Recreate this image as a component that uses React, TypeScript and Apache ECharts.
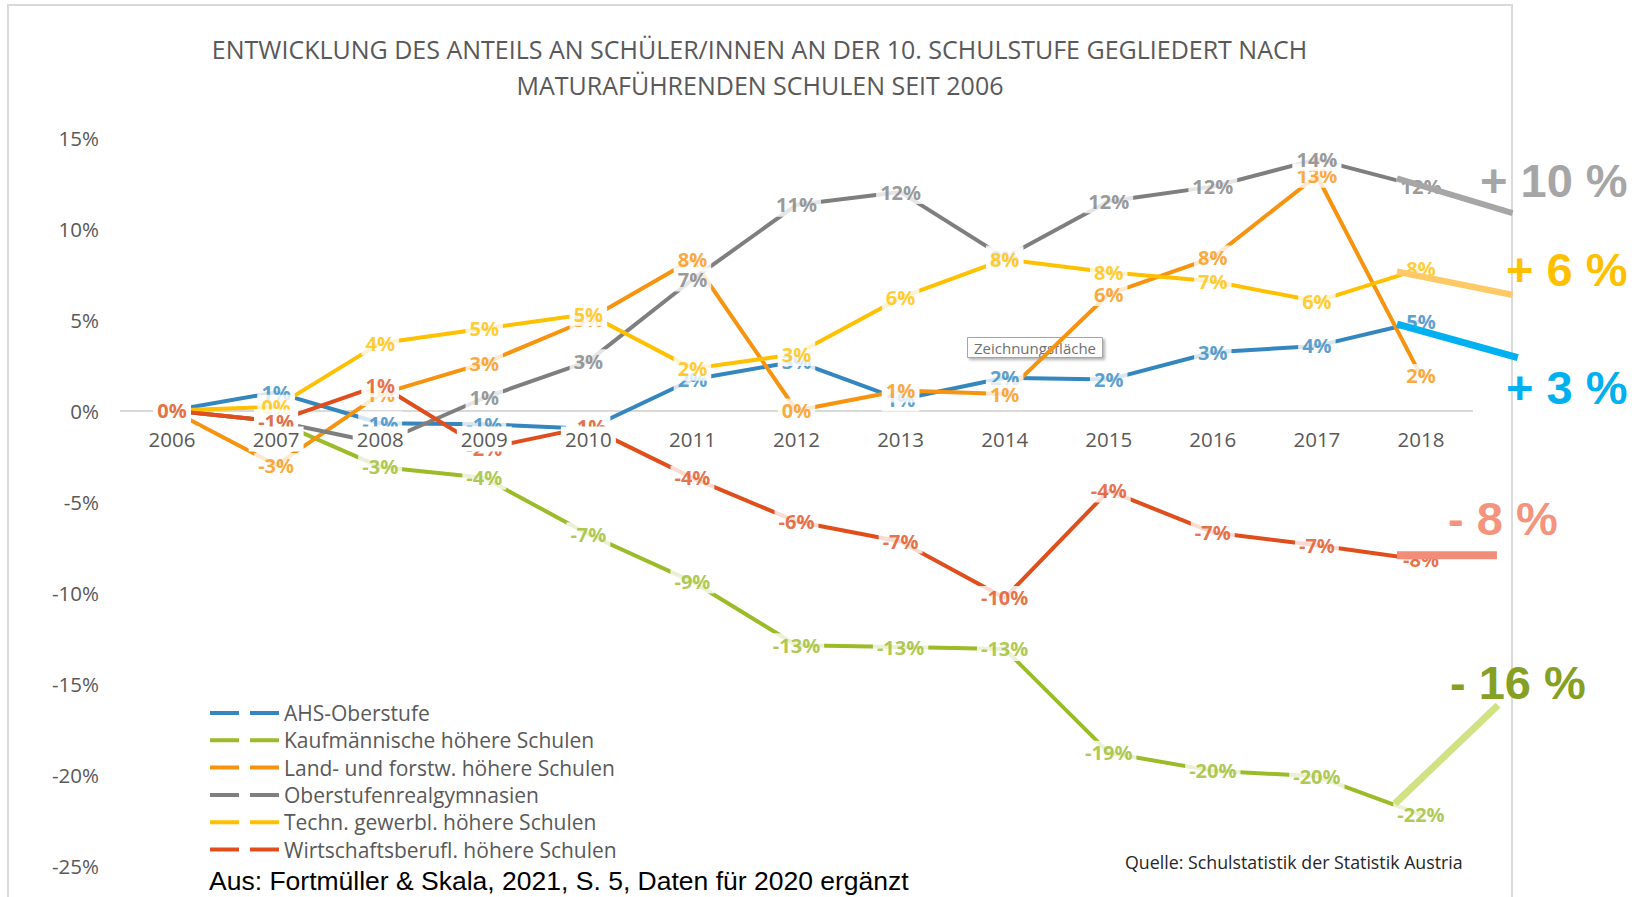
import React, { useEffect, useRef } from "react";
import * as echarts from "echarts";

const years = ["2006", "2007", "2008", "2009", "2010", "2011", "2012", "2013", "2014", "2015", "2016", "2017", "2018"];
const yTicks = [-25, -20, -15, -10, -5, 0, 5, 10, 15];

const ahs = [0, 1.0, -0.7, -0.75, -1.0, 1.7, 2.7, 0.6, 1.8, 1.7, 3.2, 3.55, 4.9];
const kaufm = [0, -0.6, -3.1, -3.7, -6.8, -9.4, -12.9, -13.0, -13.1, -18.8, -19.8, -20.1, -22.2];
const landForst = [0, -3.0, 0.9, 2.6, 5.0, 8.3, 0.0, 1.1, 0.9, 6.4, 8.4, 12.9, 1.9];
const orgym = [0, -0.6, -1.8, 0.7, 2.7, 7.2, 11.3, 12.0, 8.4, 11.5, 12.3, 13.8, 12.3];
const techn = [0, 0.2, 3.7, 4.5, 5.3, 2.3, 3.1, 6.2, 8.3, 7.6, 7.1, 6.0, 7.8];
const wirtsch = [0, -0.6, 1.4, -2.1, -0.9, -3.7, -6.1, -7.2, -10.3, -4.4, -6.7, -7.4, -8.2];

const seriesNames = [
  "AHS-Oberstufe",
  "Kaufmännische höhere Schulen",
  "Land- und forstw. höhere Schulen",
  "Oberstufenrealgymnasien",
  "Techn. gewerbl. höhere Schulen",
  "Wirtschaftsberufl. höhere Schulen",
];
const seriesValues = [ahs, kaufm, landForst, orgym, techn, wirtsch];
const seriesColors = ["#3486BF", "#9BBB29", "#F7930F", "#7F7F7F", "#FFC000", "#DF4E1C"];

// 2020 supplement lines (x in category-index units, y in %)
const orgExtX = [11.77, 12.88];
const orgExtY = [12.76, 10.84];
const technExtX = [11.77, 12.88];
const technExtY = [7.63, 6.35];
const ahsExtX = [11.77, 12.93];
const ahsExtY = [4.75, 2.9];
const wirtschExtX = [11.77, 12.73];
const wirtschExtY = [-7.95, -7.95];
const kaufmExtX = [11.75, 12.74];
const kaufmExtY = [-21.6, -16.2];

const extLabels = ["+ 10 %", "+ 6 %", "+ 3 %", "- 8 %", "- 16 %"];

const FONT = "'Open Sans', sans-serif";

// main grid: left 120 .. right edge 1473 (13 categories); overlay grid extends to 1530
const GRID_LEFT = 120;
const GRID_RIGHT_EDGE = 1473;
const OVERLAY_RIGHT_EDGE = 1530;
const GRID_TOP = 137.5;
const GRID_BOTTOM = 31.5;
const PLOT_H = 897 - GRID_TOP - GRID_BOTTOM;
const unitPx = (GRID_RIGHT_EDGE - GRID_LEFT) / years.length;
const overlayMax = -0.5 + (OVERLAY_RIGHT_EDGE - GRID_LEFT) / unitPx;
const yMin = yTicks[0];
const yMax = yTicks[yTicks.length - 1];
// shift the category axis (labels) from the grid bottom up to the 0 % line
const zeroOffset = -PLOT_H * (0 - yMin) / (yMax - yMin);

export default function App() {
  const ref = useRef<HTMLDivElement>(null);
  useEffect(() => {
    document.body.style.margin = "0";
    document.body.style.overflow = "hidden";
    if (!ref.current) return;
    const chart = echarts.init(ref.current, null, { renderer: "svg" });

    const lineSeries = seriesNames.map((name, i) => ({
      type: "line",
      name,
      data: seriesValues[i],
      xAxisIndex: 0,
      yAxisIndex: 0,
      symbol: "none",
      z: 2,
      silent: true,
      color: seriesColors[i],
      lineStyle: { width: 4, color: seriesColors[i] },
    }));

    const labelSeries = seriesNames.map((name, i) => ({
      type: "scatter",
      name: "lbl-" + i,
      data: seriesValues[i],
      xAxisIndex: 0,
      yAxisIndex: 0,
      symbolSize: 1,
      z: 3,
      silent: true,
      itemStyle: { color: "rgba(0,0,0,0)" },
      label: {
        show: true,
        position: "inside",
        formatter: (p: any) => {
          const v = Math.round(p.value);
          return (v === 0 ? 0 : v) + "%";
        },
        color: seriesColors[i],
        fontSize: 20,
        fontWeight: "bold",
        fontFamily: FONT,
        backgroundColor: "#fff",
        padding: [2, 4],
      },
    }));

    const ext = (xs: number[], ys: number[], color: string, width: number) => ({
      type: "line",
      name: "ext-" + color,
      data: xs.map((x, i) => [x, ys[i]]),
      xAxisIndex: 1,
      yAxisIndex: 1,
      symbol: "none",
      z: 5,
      silent: true,
      lineStyle: { width, color, cap: "butt" },
    });

    const extSeries = [
      ext(orgExtX, orgExtY, "#A6A6A6", 6),
      ext(technExtX, technExtY, "#FFC966", 6.5),
      ext(ahsExtX, ahsExtY, "#00B0F0", 7),
      ext(wirtschExtX, wirtschExtY, "#F08C78", 8),
      ext(kaufmExtX, kaufmExtY, "#D0E283", 7),
    ];

    const bigText = (text: string, x: number, y: number, color: string) => ({
      type: "text",
      x,
      y,
      z: 20,
      silent: true,
      style: {
        text,
        fill: color,
        fontSize: 47,
        fontWeight: "bold",
        fontFamily: "'Liberation Sans', Arial, sans-serif",
        align: "left",
        verticalAlign: "middle",
      },
    });

    const zeroColors = yTicks.map((t) => (t === 0 ? "#D9D9D9" : "rgba(0,0,0,0)"));

    chart.setOption({
      animation: false,
      backgroundColor: "#fff",
      grid: [
        { left: GRID_LEFT, right: 1637 - GRID_RIGHT_EDGE, top: GRID_TOP, bottom: GRID_BOTTOM, containLabel: false, outerBoundsMode: "none" },
        { left: GRID_LEFT, right: 1637 - OVERLAY_RIGHT_EDGE, top: GRID_TOP, bottom: GRID_BOTTOM, containLabel: false, outerBoundsMode: "none" },
      ],
      legend: {
        data: seriesNames,
        orient: "vertical",
        left: 210,
        top: 702,
        padding: 0,
        itemWidth: 69,
        itemHeight: 4,
        itemGap: 5.3,
        icon: "path://M0,0H29V4H0Z M40,0H69V4H40Z",
        selectedMode: false,
        textStyle: { fontSize: 21, color: "#595959", fontFamily: FONT, lineHeight: 22 },
      },
      xAxis: [
        {
          type: "category",
          gridIndex: 0,
          data: years,
          position: "bottom",
          offset: zeroOffset,
          z: 4,
          axisLine: { show: false, onZero: false },
          axisTick: { show: false },
          splitLine: { show: false },
          axisLabel: {
            fontSize: 20.5,
            color: "#595959",
            fontFamily: FONT,
            margin: 16,
            backgroundColor: "#fff",
            padding: [2, 4],
          },
        },
        { type: "value", gridIndex: 1, min: -0.5, max: overlayMax, show: false, axisLine: { onZero: false } },
      ],
      yAxis: [
        {
          type: "value",
          gridIndex: 0,
          min: yMin,
          max: yMax,
          interval: 5,
          axisLine: { show: false },
          axisTick: { show: false },
          splitLine: { show: true, lineStyle: { color: zeroColors, width: 2 } },
          axisLabel: {
            formatter: "{value}%",
            fontSize: 20.5,
            color: "#595959",
            fontFamily: FONT,
            margin: 21,
          },
        },
        {
          type: "value",
          gridIndex: 1,
          min: yMin,
          max: yMax,
          interval: 5,
          show: false,
        },
      ],
      graphic: [
        {
          type: "rect",
          z: 0,
          silent: true,
          shape: { x: 8, y: 5, width: 1504, height: 900 },
          style: { fill: "none", stroke: "#D9D9D9", lineWidth: 2 },
        },
        {
          type: "text",
          x: 759.5,
          y: 49,
          z: 20,
          style: {
            text: "ENTWICKLUNG DES ANTEILS AN SCHÜLER/INNEN AN DER 10. SCHULSTUFE GEGLIEDERT NACH",
            fill: "#595959",
            fontSize: 25,
            fontFamily: FONT,
            align: "center",
            verticalAlign: "middle",
          },
        },
        {
          type: "text",
          x: 760,
          y: 84.6,
          z: 20,
          style: {
            text: "MATURAFÜHRENDEN SCHULEN SEIT 2006",
            fill: "#595959",
            fontSize: 25,
            fontFamily: FONT,
            align: "center",
            verticalAlign: "middle",
          },
        },
        {
          type: "group",
          z: 1,
          silent: true,
          children: [
            {
              type: "rect",
              z: 1,
              shape: { x: 967.5, y: 337.5, width: 135, height: 20 },
              style: {
                fill: "#fff",
                stroke: "#A5A5A5",
                lineWidth: 1,
                shadowBlur: 3,
                shadowOffsetX: 2,
                shadowOffsetY: 2,
                shadowColor: "rgba(0,0,0,0.3)",
              },
            },
            {
              type: "text",
              z: 1,
              x: 1035,
              y: 347.7,
              style: {
                text: "Zeichnungsfläche",
                fill: "#707070",
                fontSize: 15,
                fontFamily: FONT,
                align: "center",
                verticalAlign: "middle",
              },
            },
          ],
        },
        bigText(extLabels[0], 1480, 180, "#A6A6A6"),
        bigText(extLabels[1], 1506, 269, "#FFC000"),
        bigText(extLabels[2], 1506, 387.5, "#00B0F0"),
        bigText(extLabels[3], 1448, 518, "#F4937E"),
        bigText(extLabels[4], 1450, 682, "#86A023"),
        {
          type: "text",
          x: 209,
          y: 881,
          z: 20,
          style: {
            text: "Aus: Fortmüller & Skala, 2021, S. 5, Daten für 2020 ergänzt",
            fill: "#000",
            fontSize: 26.5,
            fontFamily: "'Liberation Sans', Arial, sans-serif",
            align: "left",
            verticalAlign: "middle",
          },
        },
        {
          type: "text",
          x: 1125,
          y: 862,
          z: 20,
          style: {
            text: "Quelle: Schulstatistik der Statistik Austria",
            fill: "#262626",
            fontSize: 17.8,
            fontFamily: FONT,
            align: "left",
            verticalAlign: "middle",
          },
        },
      ],
      series: [...lineSeries, ...labelSeries, ...extSeries],
    });

    return () => chart.dispose();
  }, []);

  return <div ref={ref} style={{ width: 1637, height: 897 }} />;
}
